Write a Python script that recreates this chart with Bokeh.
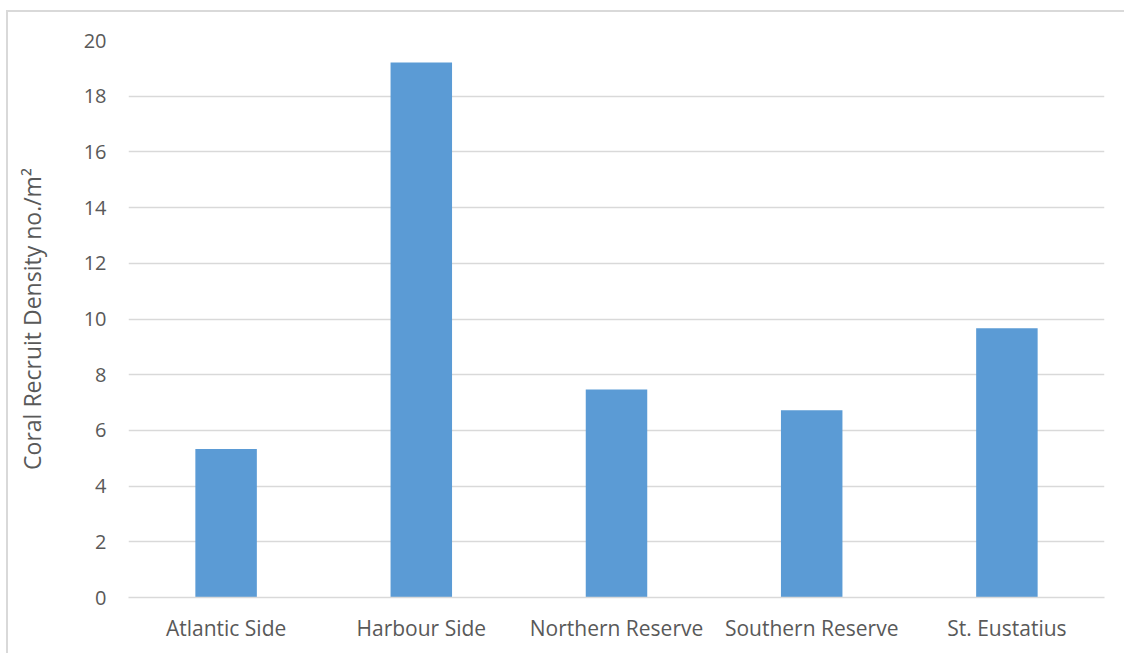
from bokeh.plotting import figure
from bokeh.models import ColumnDataSource, Range1d, FixedTicker
from bokeh.embed import file_html
from bokeh.resources import INLINE

categories = ["Atlantic Side", "Harbour Side", "Northern Reserve", "Southern Reserve", "St. Eustatius"]
values = [5.33, 19.21, 7.47, 6.72, 9.67]
y_ticks = [0, 2, 4, 6, 8, 10, 12, 14, 16, 18, 20]

src = ColumnDataSource(dict(cat=categories, val=values))

p = figure(x_range=categories, y_range=Range1d(0, 20), width=1124, height=653,
           output_backend="svg", toolbar_location=None,
           min_border_left=128, min_border_right=20, min_border_top=40, min_border_bottom=56)
p.vbar(x="cat", top="val", width=0.315, source=src, color="#5b9bd5", line_color=None)

font = "Open Sans"
txt = "#595959"
p.outline_line_color = None
p.border_fill_color = None
p.background_fill_color = "white"
p.xgrid.grid_line_color = None
p.ygrid.grid_line_color = "#d9d9d9"
p.ygrid.grid_line_width = 1.3
p.yaxis.ticker = FixedTicker(ticks=y_ticks)
for ax in (p.xaxis, p.yaxis):
    ax.axis_line_color = None
    ax.major_tick_line_color = None
    ax.minor_tick_line_color = None
    ax.major_label_text_font = font
    ax.major_label_text_color = txt
p.xaxis.major_label_text_font_size = "21px"
p.yaxis.major_label_text_font_size = "20px"
p.xaxis.axis_line_color = "#d9d9d9"
p.xaxis.axis_line_width = 1.3
p.xaxis.major_label_standoff = 10
p.yaxis.major_label_standoff = 16
p.yaxis.axis_label = "Coral Recruit Density no./m²"
p.yaxis.axis_label_text_font = font
p.yaxis.axis_label_text_color = txt
p.yaxis.axis_label_text_font_size = "23px"
p.yaxis.axis_label_text_font_style = "normal"
p.yaxis.axis_label_standoff = 33
p.x_range.range_padding = 0
p.styles = {"background": "linear-gradient(#d9d9d9,#d9d9d9) 6px 10px / 2px 100% no-repeat, "
                          "linear-gradient(#d9d9d9,#d9d9d9) 6px 10px / 100% 2px no-repeat, white"}

open("out.html", "w").write(file_html(p, INLINE))
